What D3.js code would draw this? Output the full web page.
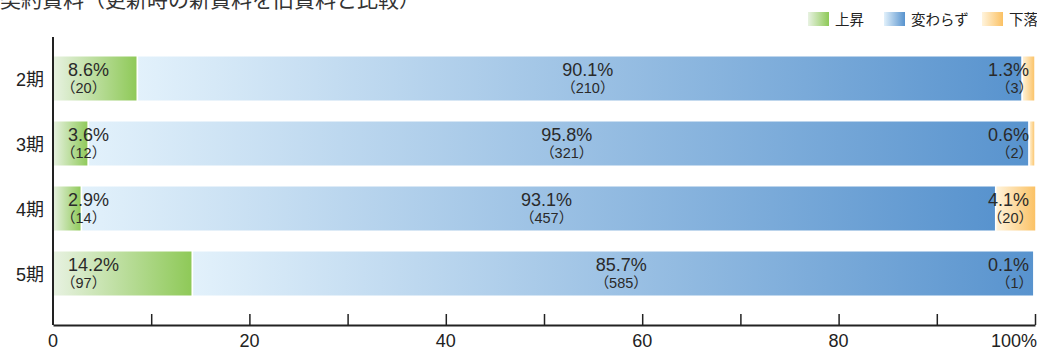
<!DOCTYPE html>
<html>
<head>
<meta charset="utf-8">
<script src="https://cdn.jsdelivr.net/npm/d3@7"></script>
<style>
  body { margin: 0; background: #fff; }
  svg { display: block; font-family: "Liberation Sans", "Noto Sans CJK JP", sans-serif; }
</style>
</head>
<body>
<div id="chart"></div>
<script>
const title = "契約賃料（更新時の新賃料を旧賃料と比較）";
const periods = ["2期", "3期", "4期", "5期"];
const seriesNames = ["上昇", "変わらず", "下落"];
const upPct = [8.6, 3.6, 2.9, 14.2];
const samePct = [90.1, 95.8, 93.1, 85.7];
const downPct = [1.3, 0.6, 4.1, 0.1];
const upCount = [20, 12, 14, 97];
const sameCount = [210, 321, 457, 585];
const downCount = [3, 2, 20, 1];
const tickLabels = ["0", "20", "40", "60", "80", "100%"];

const width = 1037;
const height = 350;
const margin = { top: 37, right: 2, bottom: 25, left: 53 };

const rows = periods.map((p, i) => ({
  period: p,
  segs: [
    { key: 0, pct: upPct[i], count: upCount[i], x0: 0, x1: upPct[i] },
    { key: 1, pct: samePct[i], count: sameCount[i], x0: upPct[i], x1: upPct[i] + samePct[i] },
    { key: 2, pct: downPct[i], count: downCount[i], x0: upPct[i] + samePct[i], x1: upPct[i] + samePct[i] + downPct[i] }
  ]
}));

const xScale = d3.scaleLinear()
  .domain([0, 100])
  .range([margin.left, width - margin.right]);

const yScale = d3.scaleBand()
  .domain(periods)
  .range([46, 306])
  .paddingInner(0.3)
  .paddingOuter(0.15);

const svg = d3.select("#chart")
  .append("svg")
    .attr("width", width)
    .attr("height", height);

// gradients
const grads = [
  ["#e8f2e2", "#8ec957"],
  ["#e2f1fb", "#5893ce"],
  ["#fff4dd", "#fbc163"]
];
const defs = svg.append("defs");
grads.forEach((g, i) => {
  const lg = defs.append("linearGradient").attr("id", "grad" + i);
  lg.append("stop").attr("offset", "0%").attr("stop-color", g[0]);
  lg.append("stop").attr("offset", "100%").attr("stop-color", g[1]);
});

// title (cut off at the top, like the original)
svg.append("text")
  .attr("x", 0)
  .attr("y", 7)
  .attr("font-size", 21)
  .attr("fill", "#333")
  .attr("font-family", "Noto Sans CJK JP")
  .text(title);

// legend
const legendX = [808, 884, 982];
seriesNames.forEach((name, i) => {
  svg.append("rect")
    .attr("x", legendX[i])
    .attr("y", 12)
    .attr("width", 21)
    .attr("height", 14)
    .attr("fill", `url(#grad${i})`);
  svg.append("text")
    .attr("x", legendX[i] + 27)
    .attr("y", 24.5)
    .attr("font-size", 14.5)
    .attr("fill", "#222")
    .attr("font-family", "Noto Sans CJK JP")
    .text(name);
});

// bars
const barG = svg.selectAll(".row")
  .data(rows)
  .join("g")
    .attr("class", "row")
    .attr("transform", (d) => `translate(0, ${yScale(d.period)})`);

barG.selectAll("rect")
  .data((d) => d.segs)
  .join("rect")
    .attr("x", (d) => xScale(d.x0))
    .attr("width", (d) => xScale(d.x1) - xScale(d.x0))
    .attr("y", 0)
    .attr("height", yScale.bandwidth())
    .attr("fill", (d) => `url(#grad${d.key})`)
    .attr("stroke", "#fff")
    .attr("stroke-width", 1.5);

// labels
const labelX = (d) => {
  if (d.key === 0) return xScale(d.x0) + 15;
  if (d.key === 1) return (xScale(d.x0) + xScale(d.x1)) / 2 + 8;
  return width - 8;
};
const anchor = (d) => ["start", "middle", "end"][d.key];

barG.selectAll(".pct")
  .data((d) => d.segs)
  .join("text")
    .attr("class", "pct")
    .attr("x", labelX)
    .attr("y", 20.5)
    .attr("text-anchor", anchor)
    .attr("font-size", 18)
    .attr("fill", "#2a2a2a")
    .text((d) => d.pct.toFixed(1) + "%");

barG.selectAll(".cnt")
  .data((d) => d.segs)
  .join("text")
    .attr("class", "cnt")
    .attr("x", (d) => labelX(d) + (d.key === 0 ? -7 : d.key === 2 ? 4 : 0))
    .attr("y", 37.5)
    .attr("text-anchor", anchor)
    .attr("font-size", 14.5)
    .attr("fill", "#2a2a2a")
    .text((d) => "（" + d.count + "）");

// category labels
svg.selectAll(".cat")
  .data(periods)
  .join("text")
    .attr("class", "cat")
    .attr("x", 44)
    .attr("y", (d) => yScale(d) + yScale.bandwidth() / 2 + 7)
    .attr("text-anchor", "end")
    .attr("font-size", 18)
    .attr("fill", "#222")
    .text((d) => d);

// left axis line
const axisY = height - margin.bottom;
svg.append("line")
  .attr("x1", margin.left)
  .attr("x2", margin.left)
  .attr("y1", margin.top)
  .attr("y2", axisY)
  .attr("stroke", "#222")
  .attr("stroke-width", 2);

// bottom axis
const xAxis = svg.append("g")
  .attr("transform", `translate(0, ${axisY})`)
  .call(d3.axisBottom(xScale)
    .tickValues(d3.range(10, 101, 10))
    .tickSize(-11)
    .tickSizeOuter(0)
    .tickFormat(""));

xAxis.select(".domain").attr("stroke", "#222").attr("stroke-width", 2);
xAxis.selectAll(".tick line").attr("stroke", "#222").attr("stroke-width", 1.5);

svg.selectAll(".xlab")
  .data(tickLabels)
  .join("text")
    .attr("class", "xlab")
    .attr("x", (d, i) => i === tickLabels.length - 1 ? width : xScale(i * 20))
    .attr("y", axisY + 22)
    .attr("text-anchor", (d, i) => i === tickLabels.length - 1 ? "end" : "middle")
    .attr("font-size", 18)
    .attr("fill", "#222")
    .text((d) => d);
</script>
</body>
</html>
